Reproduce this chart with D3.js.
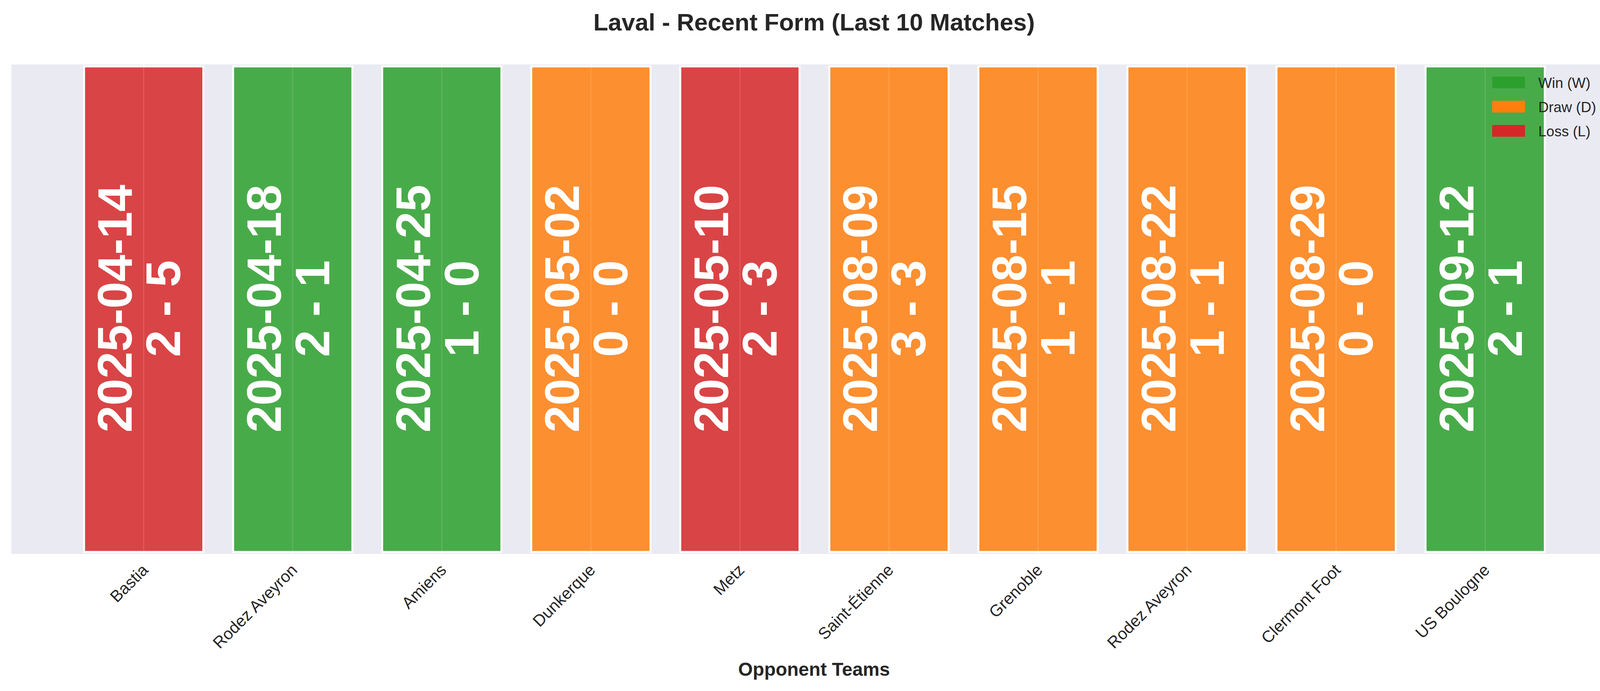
<!DOCTYPE html><html><head><meta charset="utf-8">
<script src="https://cdn.jsdelivr.net/npm/d3@7"></script>
<style>body{margin:0;background:#fff}</style></head><body>
<svg id="c" width="4170" height="1769"></svg>
<script>
const opponents=["Bastia","Rodez Aveyron","Amiens","Dunkerque","Metz","Saint-Étienne","Grenoble","Rodez Aveyron","Clermont Foot","US Boulogne"];
const dates=["2025-04-14","2025-04-18","2025-04-25","2025-05-02","2025-05-10","2025-08-09","2025-08-15","2025-08-22","2025-08-29","2025-09-12"];
const scores=["2 - 5","2 - 1","1 - 0","0 - 0","2 - 3","3 - 3","1 - 1","1 - 1","0 - 0","2 - 1"];
const results=["L","W","W","D","L","D","D","D","D","W"];
const legendLabels=[["W","Win (W)"],["D","Draw (D)"],["L","Loss (L)"]];
const colors={W:"#2ca02c",D:"#ff7f0e",L:"#d62728"};
const svg=d3.select("#c"), F="'Liberation Sans',Arial,sans-serif";
const L=29,R=4139,T=165,B=1418;
const x=d3.scaleLinear().domain([-0.888,9.883]).range([L,R]);
const y=d3.scaleLinear().domain([0,1]).range([B-5,T+5]);
svg.append("rect").attr("x",L).attr("y",T).attr("width",R-L).attr("height",B-T).attr("fill","#eaeaf2");
const idx=d3.range(10);
svg.selectAll(".g").data(idx).join("line").attr("x1",i=>x(i)).attr("x2",i=>x(i)).attr("y1",T).attr("y2",B).attr("stroke","#fff").attr("stroke-width",2.5);
svg.selectAll(".bar").data(idx).join("rect").attr("x",i=>x(i-0.4)).attr("width",x(0.8)-x(0)).attr("y",y(1)).attr("height",y(0)-y(1))
 .attr("fill",i=>colors[results[i]]).attr("fill-opacity",0.85).attr("stroke","#fff").attr("stroke-width",5);
svg.selectAll(".gl").data(idx).join("line").attr("x1",i=>x(i)).attr("x2",i=>x(i)).attr("y1",y(1)).attr("y2",y(0)).attr("stroke","#fff").attr("stroke-opacity",0.12).attr("stroke-width",2.5);
const tg=svg.selectAll(".t").data(idx).join("text").attr("transform",i=>`translate(${x(i)-18},790) rotate(-90)`)
 .attr("text-anchor","middle").attr("font-family",F).attr("font-weight","bold").attr("font-size",124).attr("fill","#fff");
tg.append("tspan").attr("x",0).attr("dy","-0.1em").text(i=>dates[i]);
tg.append("tspan").attr("x",0).attr("dy","1.0em").text(i=>scores[i]);
svg.selectAll(".tl").data(idx).join("text").attr("transform",i=>`translate(${x(i)+14},1462) rotate(-45)`)
 .attr("text-anchor","end").attr("font-family",F).attr("font-size",42).attr("fill","#262626").text(i=>opponents[i]);
svg.append("text").attr("x",(L+R)/2).attr("y",78).attr("text-anchor","middle").attr("font-family",F).attr("font-weight","bold").attr("font-size",62).attr("fill","#262626").text("Laval - Recent Form (Last 10 Matches)");
svg.append("text").attr("x",(L+R)/2).attr("y",1730).attr("text-anchor","middle").attr("font-family",F).attr("font-weight","bold").attr("font-size",48).attr("fill","#262626").text("Opponent Teams");
const lg=svg.selectAll(".lg").data(legendLabels).join("g").attr("transform",(d,i)=>`translate(3820,${196+i*62})`);
lg.append("rect").attr("width",84).attr("height",30).attr("fill",d=>colors[d[0]]);
lg.append("text").attr("x",118).attr("y",29).attr("font-family",F).attr("font-size",37).attr("fill","#262626").text(d=>d[1]);
</script></body></html>
